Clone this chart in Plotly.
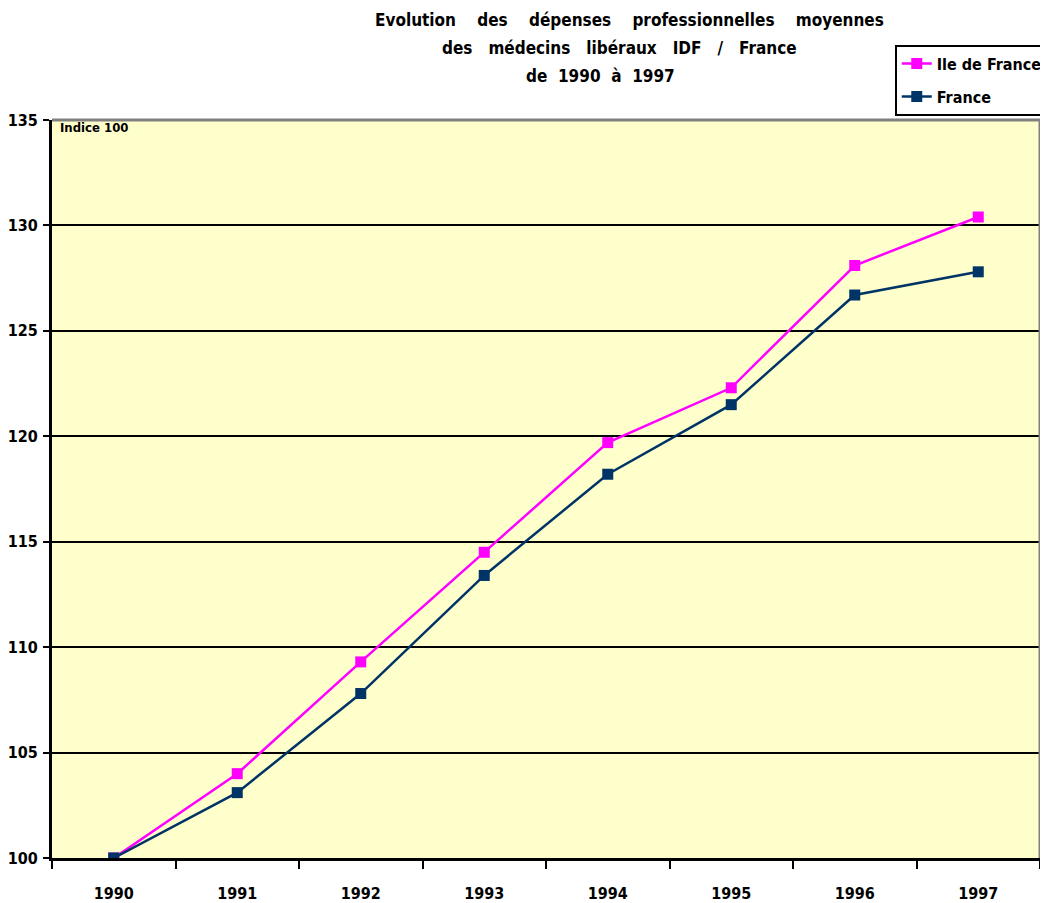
import plotly.graph_objects as go

years = ["1990", "1991", "1992", "1993", "1994", "1995", "1996", "1997"]
idf = [100, 104.0, 109.3, 114.5, 119.7, 122.3, 128.1, 130.4]
france = [100, 103.1, 107.8, 113.4, 118.2, 121.5, 126.7, 127.8]
y_ticks = [100, 105, 110, 115, 120, 125, 130, 135]

FONT = "DejaVu Sans Condensed, DejaVu Sans, sans-serif"
NB = "\u00a0"

fig = go.Figure()
fig.add_trace(go.Scatter(
    x=years, y=idf, name="Ile de France", mode="lines+markers",
    legendgroup="a",
    line=dict(color="#FF00FF", width=2.5),
    marker=dict(symbol="square", size=11, color="#FF00FF"),
))
fig.add_trace(go.Scatter(
    x=years, y=france, name="France", mode="lines+markers",
    legendgroup="b",
    line=dict(color="#003366", width=2.5),
    marker=dict(symbol="square", size=11, color="#003366"),
))

# page body has an 8px margin: plot area target in page px is x 52-1040, y 120-858
fig.update_layout(
    width=1040, height=895,
    margin=dict(l=44, r=8, t=112, b=45, autoexpand=False),
    paper_bgcolor="white", plot_bgcolor="#FFFFCC",
    font=dict(family=FONT, size=16, color="black", weight="bold"),
    showlegend=True,
    legend=dict(
        x=0.853, y=1.102, xanchor="left", yanchor="top",
        bgcolor="white", bordercolor="black", borderwidth=2,
        font=dict(family=FONT, size=16, color="black", weight="bold"),
        tracegroupgap=9, itemwidth=30,
    ),
    xaxis=dict(
        type="category", range=[-0.5, 7.5], automargin=False,
        showgrid=False, zeroline=False,
        showline=True, linecolor="black", linewidth=3,
        ticks="outside", tickson="boundaries", ticklen=8, tickwidth=2, tickcolor="black",
        ticklabelstandoff=19,
        tickfont=dict(family=FONT, size=16, color="black", weight="bold"),
        fixedrange=True,
    ),
    yaxis=dict(
        range=[100, 135], tickvals=y_ticks, automargin=False,
        showgrid=True, gridcolor="black", gridwidth=2,
        zeroline=False,
        showline=True, linecolor="black", linewidth=3,
        ticks="outside", ticklen=6, tickwidth=2, tickcolor="black",
        ticklabelstandoff=2,
        tickfont=dict(family=FONT, size=16, color="black", weight="bold"),
        fixedrange=True,
    ),
)

# gray top and right borders of plot area
fig.add_shape(type="line", xref="paper", yref="paper", x0=0, x1=1, y0=1, y1=1,
              line=dict(color="#808080", width=3))
fig.add_shape(type="line", xref="paper", yref="paper", x0=1, x1=1, y0=0, y1=1,
              line=dict(color="#808080", width=3))

sp4 = NB * 4
sp3 = NB * 3
sp2 = NB * 2
title_lines = [
    ("Evolution" + sp4 + "des" + sp4 + "dépenses" + sp4 + "professionnelles" + sp4 + "moyennes", 629, 20),
    ("des" + sp3 + "médecins" + sp3 + "libéraux" + sp3 + "IDF" + sp3 + "/" + sp3 + "France", 619, 48),
    ("de" + sp2 + "1990" + sp2 + "à" + sp2 + "1997", 600, 76),
]
for txt, px, py in title_lines:
    fig.add_annotation(
        text=txt, xref="paper", yref="paper",
        x=(px - 52) / 988, y=(858 - py) / 738,
        xanchor="center", yanchor="middle", showarrow=False,
        font=dict(family=FONT, size=17, color="black", weight="bold"),
    )

fig.add_annotation(
    text="Indice 100", xref="paper", yref="paper",
    x=(58 - 52) / 988, y=(858 - 127) / 738,
    xanchor="left", yanchor="middle", showarrow=False,
    font=dict(family=FONT, size=13, color="black", weight="bold"),
)

fig.write_html("out.html")
